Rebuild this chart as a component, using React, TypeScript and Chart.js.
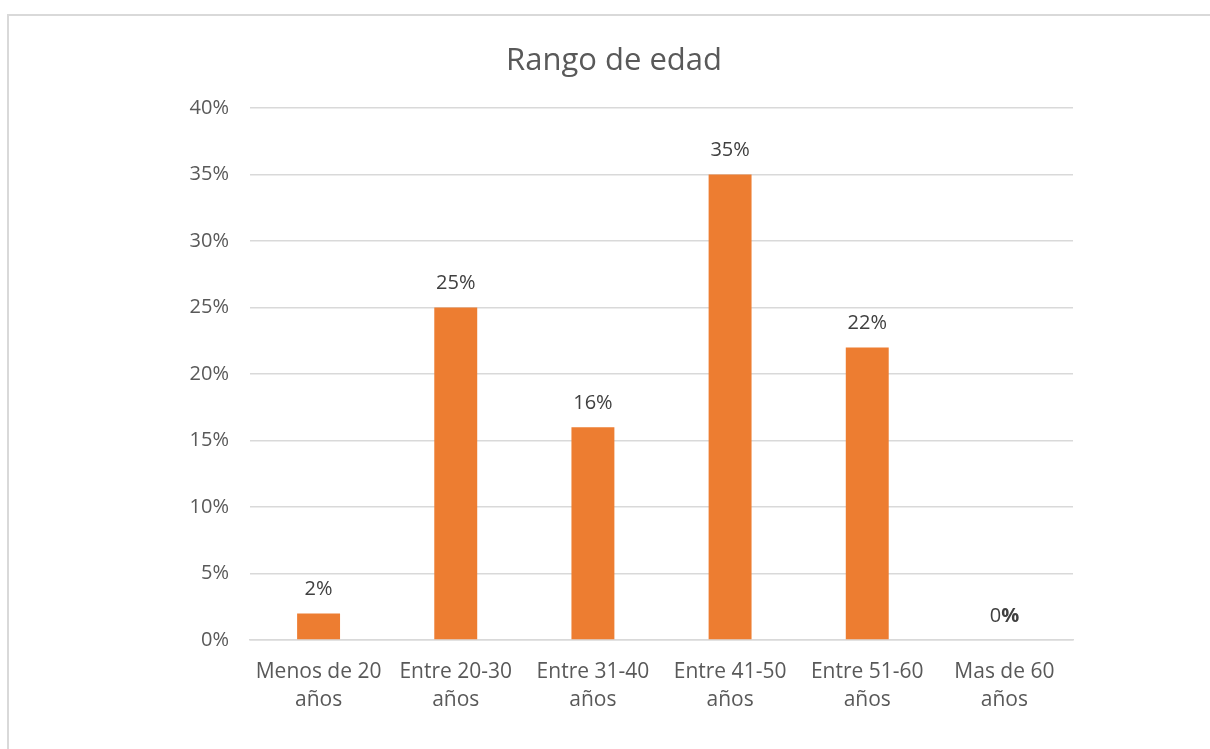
import React, { useEffect, useRef } from "react";
import { Chart, registerables } from "chart.js";

Chart.register(...registerables);

const chartTitle = "Rango de edad";
const categories: string[][] = [
  ["Menos de 20", "años"],
  ["Entre 20-30", "años"],
  ["Entre 31-40", "años"],
  ["Entre 41-50", "años"],
  ["Entre 51-60", "años"],
  ["Mas de 60", "años"],
];
const values: number[] = [2, 25, 16, 35, 22, 0];
const yTicks: number[] = [0, 5, 10, 15, 20, 25, 30, 35, 40];

const FONT = "'Open Sans', 'DejaVu Sans', sans-serif";

const labelPlugin = {
  id: "barLabels",
  afterDatasetsDraw(chart: any) {
    const ctx = chart.ctx;
    const meta = chart.getDatasetMeta(0);
    ctx.save();
    ctx.textAlign = "center";
    ctx.textBaseline = "middle";
    meta.data.forEach((bar: any, i: number) => {
      const v = values[i];
      const y = bar.y - 24;
      if (v === 0) {
        ctx.font = `20px ${FONT}`;
        const w0 = ctx.measureText("0").width;
        ctx.font = `bold 20px ${FONT}`;
        const wp = ctx.measureText("%").width;
        const start = bar.x - (w0 + wp) / 2;
        ctx.textAlign = "left";
        ctx.fillStyle = "#404040";
        ctx.font = `20px ${FONT}`;
        ctx.fillText("0", start, y);
        ctx.font = `bold 20px ${FONT}`;
        ctx.fillText("%", start + w0, y);
        ctx.textAlign = "center";
      } else {
        ctx.font = `20px ${FONT}`;
        ctx.fillStyle = "#404040";
        ctx.fillText(`${v}%`, bar.x, y);
      }
    });
    ctx.font = `31px ${FONT}`;
    ctx.fillStyle = "#595959";
    ctx.fillText(chartTitle, 614, 61);
    ctx.restore();
  },
};

export default function App() {
  const ref = useRef<HTMLCanvasElement>(null);
  useEffect(() => {
    if (!ref.current) return;
    const chart = new Chart(ref.current, {
      type: "bar",
      data: {
        labels: categories,
        datasets: [
          {
            data: values,
            backgroundColor: "#ED7D31",
            categoryPercentage: 1,
            barPercentage: 0.313,
          },
        ],
      },
      options: {
        animation: false,
        responsive: false,
        layout: { padding: { left: 0, right: 137, top: 108, bottom: 0 } },
        plugins: {
          legend: { display: false },
          title: { display: false },
          tooltip: { enabled: false },
        },
        scales: {
          x: {
            grid: { display: false, drawTicks: false },
            border: { display: true, color: "#d9d9d9", width: 1.5 },
            ticks: {
              color: "#595959",
              font: { family: FONT, size: 21, lineHeight: 1.33 },
              padding: 18,
              maxRotation: 0,
              autoSkip: false,
            },
            afterFit: (s: any) => {
              s.height = 109;
            },
          },
          y: {
            min: 0,
            max: 40,
            afterBuildTicks: (s: any) => {
              s.ticks = yTicks.map((v) => ({ value: v }));
            },
            grid: { color: "#d9d9d9", lineWidth: 1.5, drawTicks: false },
            border: { display: false },
            ticks: {
              color: "#595959",
              font: { family: FONT, size: 20 },
              padding: 21,
              callback: (v: any) => `${v}%`,
            },
            afterFit: (s: any) => {
              s.width = 250;
            },
          },
        },
      },
      plugins: [labelPlugin],
    });
    return () => chart.destroy();
  }, []);
  return (
    <div>
      <div
        style={{
          position: "fixed",
          left: 7,
          top: 14,
          width: 1220,
          height: 800,
          border: "2px solid #d9d9d9",
          boxSizing: "border-box",
        }}
      />
      <canvas
        ref={ref}
        width={1210}
        height={749}
        style={{ position: "fixed", left: 0, top: 0, width: 1210, height: 749 }}
      />
    </div>
  );
}
